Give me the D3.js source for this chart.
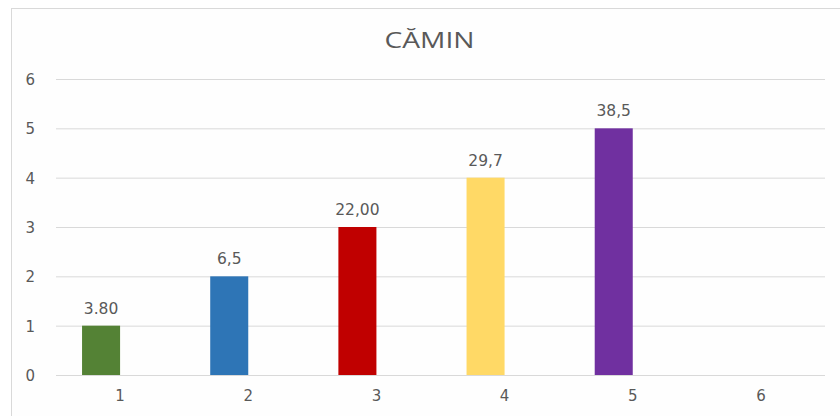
<!DOCTYPE html>
<meta charset="utf-8">
<script src="https://d3js.org/d3.v7.min.js"></script>
<style>
  body { margin: 0; background: #fff; }
  text { font-family: "DejaVu Sans", Verdana, sans-serif; fill: #595959; }
</style>
<body>
<div id="chart"></div>
</body>
<script>
  // chart data
  const categories = ["1", "2", "3", "4", "5", "6"];
  const values = [1, 2, 3, 4, 5, null];
  const dataLabels = ["3.80", "6,5", "22,00", "29,7", "38,5", ""];
  const barColors = ["#548235", "#2e75b6", "#c00000", "#ffd966", "#7030a0", "#a5a5a5"];
  const yTicks = [0, 1, 2, 3, 4, 5, 6];
  const title = "CĂMIN";

  const W = 840, H = 416;
  const plot = { left: 56, right: 825, top: 79, bottom: 375 };

  const svg = d3.select("#chart")
    .append("svg")
    .attr("width", W)
    .attr("height", H);

  // chart frame
  svg.append("rect")
    .attr("x", 11.5).attr("y", 8.5)
    .attr("width", W + 20).attr("height", H + 20)
    .attr("fill", "#fefefe")
    .attr("stroke", "#d9d9d9");

  svg.append("text")
    .attr("x", 429.5)
    .attr("y", 48)
    .attr("text-anchor", "middle")
    .attr("textLength", 90)
    .attr("lengthAdjust", "spacingAndGlyphs")
    .style("font-family", "'Open Sans', 'Liberation Sans', sans-serif")
    .style("font-size", "21px")
    .style("fill", "#595959")
    .text(title);

  const x = d3.scaleBand()
    .domain(categories)
    .range([plot.left, plot.right])
    .padding(0);

  // two slots per category, the second one is empty
  const xSub = d3.scaleBand()
    .domain(["val", "empty"])
    .range([0, x.bandwidth()])
    .paddingInner(0)
    .paddingOuter(0.685);

  const y = d3.scaleLinear()
    .domain([0, 6])
    .range([plot.bottom, plot.top]);

  // gridlines + y labels
  const yAxis = svg.append("g")
    .attr("transform", `translate(${plot.left},0)`)
    .call(d3.axisLeft(y).tickValues(yTicks).tickFormat(d3.format("d"))
      .tickSize(-(plot.right - plot.left)).tickPadding(21));
  yAxis.select(".domain").remove();
  yAxis.selectAll(".tick line").attr("stroke", "#d9d9d9");
  yAxis.selectAll(".tick text")
    .style("font-size", "15px")
    .style("fill", "#595959")
    .attr("dy", "0.36em");

  // x labels
  const xAxis = svg.append("g")
    .attr("transform", `translate(0,${plot.bottom})`)
    .call(d3.axisBottom(x).tickSize(0).tickPadding(15));
  xAxis.select(".domain").remove();
  xAxis.selectAll(".tick text")
    .style("font-size", "15px")
    .style("fill", "#595959");

  const rows = categories.map((c, i) => ({ cat: c, v: values[i], label: dataLabels[i], color: barColors[i] }))
    .filter(d => d.v != null);

  svg.selectAll("rect.bar")
    .data(rows)
    .join("rect")
    .attr("class", "bar")
    .attr("x", d => x(d.cat) + xSub("val"))
    .attr("width", xSub.bandwidth())
    .attr("y", d => y(d.v))
    .attr("height", d => y(0) - y(d.v))
    .attr("fill", d => d.color);

  svg.selectAll("text.lbl")
    .data(rows)
    .join("text")
    .attr("class", "lbl")
    .attr("x", d => x(d.cat) + xSub("val") + xSub.bandwidth() / 2)
    .attr("y", d => y(d.v) - 12)
    .attr("text-anchor", "middle")
    .style("font-size", "15.5px")
    .text(d => d.label);
</script>
